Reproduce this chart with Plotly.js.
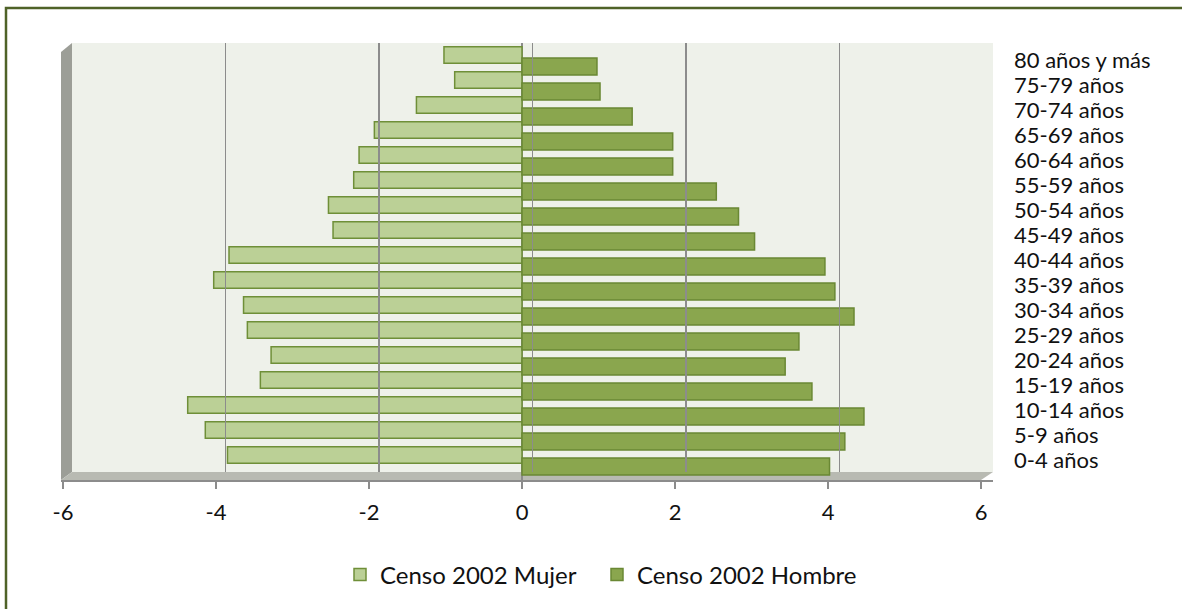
<!DOCTYPE html>
<html>
<head>
<meta charset="utf-8">
<script src="https://cdn.plot.ly/plotly-3.0.1.min.js"></script>
<style>
  html, body { margin: 0; padding: 0; background: #ffffff; }
  #chart { width: 1182px; height: 609px; }
</style>
</head>
<body>
<div id="chart"></div>
<script>
// Age groups, top to bottom as in the chart
const categories = [
  '80 años y más', '75-79 años', '70-74 años', '65-69 años', '60-64 años',
  '55-59 años', '50-54 años', '45-49 años', '40-44 años', '35-39 años',
  '30-34 años', '25-29 años', '20-24 años', '15-19 años', '10-14 años',
  '5-9 años', '0-4 años'
];
// Censo 2002 Mujer (plotted to the left, negative)
const mujer = [
  -1.02, -0.88, -1.38, -1.93, -2.13,
  -2.20, -2.53, -2.47, -3.83, -4.03,
  -3.64, -3.59, -3.28, -3.42, -4.37,
  -4.14, -3.85
];
// Censo 2002 Hombre
const hombre = [
  0.98, 1.02, 1.44, 1.97, 1.97,
  2.54, 2.83, 3.04, 3.96, 4.09,
  4.34, 3.62, 3.44, 3.79, 4.47,
  4.22, 4.02
];
const seriesNames = ['Censo 2002 Mujer', 'Censo 2002 Hombre'];
const xTickVals = [-6, -4, -2, 0, 2, 4, 6];
const xTickText = ['-6', '-4', '-2', '0', '2', '4', '6'];

// pixel helpers for the decorative 3D frame (layout only)
const L = 61, R = 993, T = 43, B = 480;
const px = v => (v - L) / (R - L);
const py = v => (B - v) / (B - T);

const FONT = 'Lato, "Open Sans", sans-serif';
const GRAY = '#8c8c8c';

const traces = [
  {
    type: 'bar', orientation: 'h', name: seriesNames[0],
    y: categories, x: mujer,
    offset: -0.53, width: 0.66,
    marker: { color: '#bbd096', line: { color: '#6f8f38', width: 1.5 } },
    legend: 'legend',
    hoverinfo: 'x+y'
  },
  {
    type: 'bar', orientation: 'h', name: seriesNames[1],
    y: categories, x: hombre,
    offset: -0.08, width: 0.68,
    marker: { color: '#8aa64e', line: { color: '#6a8834', width: 1.5 } },
    legend: 'legend2',
    hoverinfo: 'x+y'
  },
  // empty trace to host the back-wall gridline axes
  { type: 'scatter', x: [], y: [], xaxis: 'x2', yaxis: 'y2', showlegend: false, hoverinfo: 'skip' }
];

const legendStyle = {
  orientation: 'h', xanchor: 'left', y: py(575), yanchor: 'middle',
  font: { family: FONT, size: 24, color: '#111111' },
  bgcolor: 'rgba(0,0,0,0)', itemwidth: 30
};

const layout = {
  width: 1182, height: 609,
  margin: { l: L, r: 1182 - R, t: T, b: 609 - B, pad: 0 },
  paper_bgcolor: '#ffffff',
  plot_bgcolor: 'rgba(0,0,0,0)',
  font: { family: FONT, size: 22, color: '#111111' },
  barmode: 'overlay',
  showlegend: true,
  legend: Object.assign({}, legendStyle, { x: px(340) }),
  legend2: Object.assign({}, legendStyle, { x: px(597) }),
  xaxis: {
    domain: [0, 1], anchor: 'y',
    range: [-6 - 2 / 76.5, 6 + 12 / 76.5],
    tickvals: xTickVals, ticktext: xTickText,
    ticks: 'outside', ticklen: 7, tickwidth: 1.5, tickcolor: GRAY,
    showline: true, linecolor: GRAY, linewidth: 2,
    showgrid: false,
    zeroline: true, zerolinecolor: GRAY, zerolinewidth: 2,
    tickfont: { family: FONT, size: 22, color: '#111111' },
    ticklabelstandoff: 5,
    fixedrange: true
  },
  yaxis: {
    domain: [0, 1], anchor: 'x', side: 'right',
    type: 'category', categoryorder: 'array', categoryarray: categories,
    tickmode: 'array', tickvals: categories, ticktext: categories,
    range: [16.8, -0.68],
    showgrid: false, zeroline: false, showline: false, ticks: '',
    ticklabelstandoff: 20,
    tickfont: { family: FONT, size: 22, color: '#111111' },
    fixedrange: true
  },
  xaxis2: {
    domain: [px(72), 1], anchor: 'y2', range: [-6, 6],
    tickvals: xTickVals, showticklabels: false, ticks: '',
    showgrid: true, gridcolor: GRAY, gridwidth: 1.5,
    zeroline: false, showline: false, fixedrange: true
  },
  yaxis2: {
    domain: [py(472), 1], anchor: 'x2', range: [0, 1],
    showgrid: false, showticklabels: false, zeroline: false, showline: false, ticks: '',
    fixedrange: true
  },
  shapes: [
    // back wall
    { type: 'rect', xref: 'paper', yref: 'paper', layer: 'below',
      x0: px(72), x1: px(993), y0: py(472), y1: py(43),
      fillcolor: '#eef1ea', line: { width: 0 } },
    // left side wall
    { type: 'path', xref: 'paper', yref: 'paper', layer: 'below',
      path: `M ${px(61)},${py(52)} L ${px(72)},${py(43)} L ${px(72)},${py(472)} L ${px(61)},${py(480)} Z`,
      fillcolor: '#9c9e97', line: { width: 0 } },
    // floor
    { type: 'path', xref: 'paper', yref: 'paper', layer: 'below',
      path: `M ${px(61)},${py(480)} L ${px(72)},${py(472)} L ${px(993)},${py(472)} L ${px(981)},${py(480)} Z`,
      fillcolor: '#b8bab2', line: { width: 0 } },
    // outer chart frame (left and top edges visible)
    { type: 'rect', xref: 'paper', yref: 'paper', layer: 'above',
      x0: px(6), x1: px(1200), y0: py(625), y1: py(8),
      fillcolor: 'rgba(0,0,0,0)', line: { color: '#4f6228', width: 2.5 } }
  ]
};

Plotly.newPlot('chart', traces, layout, { displayModeBar: false, staticPlot: true });
</script>
</body>
</html>
